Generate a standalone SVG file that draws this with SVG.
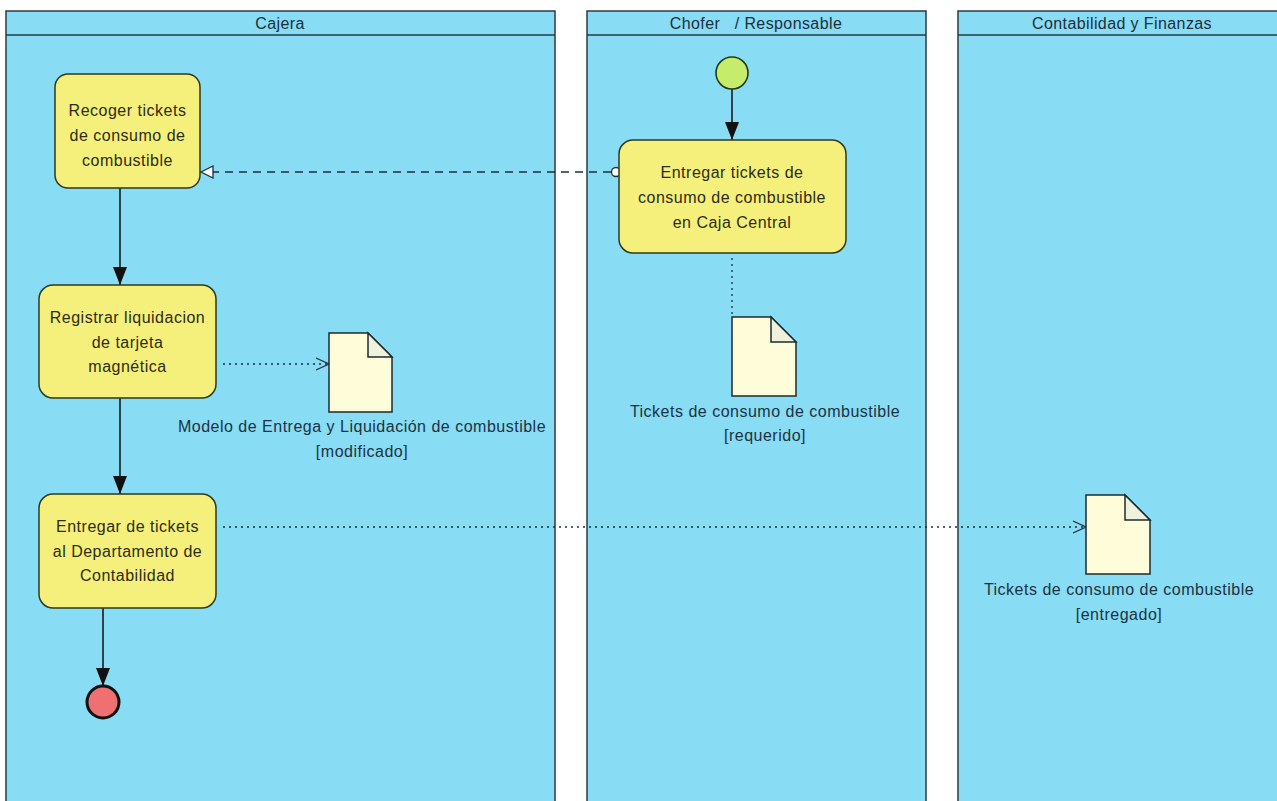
<svg xmlns="http://www.w3.org/2000/svg" width="1277" height="801" viewBox="0 0 1277 801">
  <style>
    .lane { fill: #88dcf4; stroke: #2b3a44; stroke-width: 1.5; }
    .hdr { font-family: "Liberation Sans", Arial, sans-serif; font-size: 16px; fill: #1c2f3c; text-anchor: middle; white-space: pre; letter-spacing: 0.4px; }
    .act { fill: #f5ef7c; stroke: #2e3a1e; stroke-width: 1.5; }
    .atxt { font-family: "Liberation Sans", Arial, sans-serif; font-size: 16px; fill: #2d2d14; text-anchor: middle; letter-spacing: 0.5px; }
    .doc { fill: #fffcd9; stroke: #1e2a30; stroke-width: 1.5; stroke-linejoin: miter; }
    .fold { fill: #eef2dc; stroke: #1e2a30; stroke-width: 1.5; }
    .ltxt { font-family: "Liberation Sans", Arial, sans-serif; font-size: 16px; fill: #1c3342; text-anchor: middle; letter-spacing: 0.5px; }
    .flow { fill: none; stroke: #111; stroke-width: 1.5; }
    .dep { fill: none; stroke: #1c2f3c; stroke-width: 1.3; stroke-dasharray: 8 6; }
    .obj { fill: none; stroke: #1c2f3c; stroke-width: 1.3; stroke-dasharray: 2 4; }
  </style>
  <defs>
    <!-- filled control-flow arrowhead, drawn along +x so orient="auto" follows the line -->
    <marker id="solid" markerWidth="18" markerHeight="14" refX="18" refY="7" orient="auto" markerUnits="userSpaceOnUse" viewBox="0 0 18 14">
      <path d="M0,0 L18,7 L0,14 Z" fill="#111"/>
    </marker>
  </defs>

  <!-- swimlanes -->
  <g id="lane-cajera">
    <rect class="lane" x="6" y="11" width="549" height="800"/>
    <line x1="6" y1="35" x2="555" y2="35" stroke="#2b3a44" stroke-width="1.5"/>
    <text class="hdr" x="280" y="29">Cajera</text>
  </g>
  <g id="lane-chofer">
    <rect class="lane" x="587" y="11" width="339" height="800"/>
    <line x1="587" y1="35" x2="926" y2="35" stroke="#2b3a44" stroke-width="1.5"/>
    <text class="hdr" x="756" y="29">Chofer   / Responsable</text>
  </g>
  <g id="lane-contabilidad">
    <rect class="lane" x="958" y="11" width="330" height="800"/>
    <line x1="958" y1="35" x2="1288" y2="35" stroke="#2b3a44" stroke-width="1.5"/>
    <text class="hdr" x="1122" y="29">Contabilidad y Finanzas</text>
  </g>

  <!-- connectors -->
  <g id="connectors">
    <line class="flow" x1="732" y1="89" x2="732" y2="140" marker-end="url(#solid)"/>
    <line class="flow" x1="120" y1="188" x2="120" y2="285" marker-end="url(#solid)"/>
    <line class="flow" x1="120" y1="398" x2="120" y2="494" marker-end="url(#solid)"/>
    <line class="flow" x1="103" y1="608" x2="103" y2="686" marker-end="url(#solid)"/>

    <!-- dependency from delivery to pickup -->
    <line class="dep" x1="611" y1="172" x2="213" y2="172"/>
    <path d="M201,172 L213,166 L213,178 Z" fill="#ffffff" stroke="#1c2f3c" stroke-width="1.3"/>
    <circle cx="616" cy="172" r="4.5" fill="#ffffff" stroke="#1c2f3c" stroke-width="1.3"/>

    <!-- object flows -->
    <line class="obj" x1="732" y1="258" x2="732" y2="314"/>
    <line class="obj" x1="223" y1="364" x2="328" y2="364"/>
    <path d="M316,358 L329,364 L316,370" fill="none" stroke="#1c2f3c" stroke-width="1.3"/>
    <line class="obj" x1="223" y1="527" x2="1085" y2="527"/>
    <path d="M1073,521 L1086,527 L1073,533" fill="none" stroke="#1c2f3c" stroke-width="1.3"/>
  </g>

  <!-- start / end -->
  <g id="start">
    <circle cx="732" cy="73" r="16" fill="#c6ec6c" stroke="#1f3a14" stroke-width="1.6"/>
  </g>
  <g id="end">
    <circle cx="103" cy="702" r="16" fill="#ee7070" stroke="#111" stroke-width="3"/>
  </g>

  <!-- actions -->
  <g id="recoger">
    <rect class="act" x="55" y="74" width="145" height="114" rx="13"/>
    <text class="atxt" x="127.5" y="116">Recoger tickets</text>
    <text class="atxt" x="127.5" y="141">de consumo de</text>
    <text class="atxt" x="127.5" y="166">combustible</text>
  </g>
  <g id="entregar-caja">
    <rect class="act" x="619" y="140" width="227" height="113" rx="14"/>
    <text class="atxt" x="732" y="178">Entregar tickets de</text>
    <text class="atxt" x="732" y="203">consumo de combustible</text>
    <text class="atxt" x="732" y="228">en Caja Central</text>
  </g>
  <g id="registrar">
    <rect class="act" x="39" y="285" width="177" height="113" rx="14"/>
    <text class="atxt" x="127.5" y="323">Registrar liquidacion</text>
    <text class="atxt" x="127.5" y="348">de tarjeta</text>
    <text class="atxt" x="127.5" y="372">magnética</text>
  </g>
  <g id="entregar-contabilidad">
    <rect class="act" x="39" y="494" width="177" height="114" rx="14"/>
    <text class="atxt" x="127.5" y="532">Entregar de tickets</text>
    <text class="atxt" x="127.5" y="557">al Departamento de</text>
    <text class="atxt" x="127.5" y="581">Contabilidad</text>
  </g>

  <!-- object nodes -->
  <g id="doc-modelo">
    <path class="doc" d="M329,333 L368,333 L392,357 L392,412 L329,412 Z"/>
    <path class="fold" d="M368,333 L368,357 L392,357 Z"/>
    <text class="ltxt" x="362" y="432">Modelo de Entrega y Liquidación de combustible</text>
    <text class="ltxt" x="362" y="457">[modificado]</text>
  </g>
  <g id="doc-requerido">
    <path class="doc" d="M732,317 L771,317 L796,342 L796,396 L732,396 Z"/>
    <path class="fold" d="M771,317 L771,342 L796,342 Z"/>
    <text class="ltxt" x="765" y="417">Tickets de consumo de combustible</text>
    <text class="ltxt" x="765" y="441">[requerido]</text>
  </g>
  <g id="doc-entregado">
    <path class="doc" d="M1086,495 L1125,495 L1150,520 L1150,574 L1086,574 Z"/>
    <path class="fold" d="M1125,495 L1125,520 L1150,520 Z"/>
    <text class="ltxt" x="1119" y="595">Tickets de consumo de combustible</text>
    <text class="ltxt" x="1119" y="620">[entregado]</text>
  </g>
</svg>
